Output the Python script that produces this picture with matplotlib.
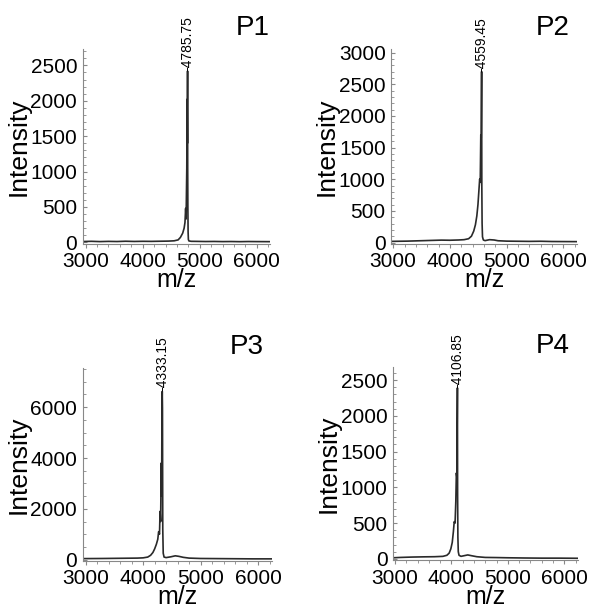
import matplotlib
matplotlib.use("Agg")
from matplotlib import pyplot as plt
from matplotlib.ticker import MultipleLocator
import numpy as np

plt.rcParams['font.family'] = ['Liberation Sans', 'DejaVu Sans']

# spectra: m/z and intensity pairs
p1_mz = [2950, 3100, 3250, 3400, 3550, 3700, 3850, 4000, 4150, 4300, 4450, 4550, 4620,
         4660, 4700, 4725, 4740, 4752, 4760, 4766, 4772, 4778, 4782, 4785.75, 4788, 4791,
         4795, 4800, 4810, 4850, 4950, 5100, 5250, 5400, 5550, 5700, 5850, 6000, 6230]
p1_int = [12, 15, 11, 14, 12, 16, 13, 15, 14, 16, 18, 22, 35,
          70, 130, 200, 280, 480, 330, 700, 1050, 2020, 1400, 2420, 1040, 500,
          150, 40, 20, 15, 14, 12, 13, 11, 12, 10, 12, 11, 10]

p2_mz = [2965, 3100, 3250, 3400, 3550, 3700, 3850, 4000, 4150, 4250, 4330, 4380, 4420,
         4450, 4475, 4495, 4510, 4525, 4535, 4545, 4552, 4559.45, 4563, 4568, 4575,
         4590, 4620, 4700, 4780, 4850, 5000, 5200, 5400, 5600, 5800, 6000, 6245]
p2_int = [18, 20, 22, 26, 30, 34, 38, 36, 40, 45, 60, 100, 180,
          280, 420, 600, 800, 1000, 950, 1700, 1650, 2700, 900, 300, 90,
          40, 30, 45, 40, 28, 22, 20, 18, 20, 16, 15, 14]

p3_mz = [2950, 3100, 3300, 3500, 3700, 3900, 4000, 4080, 4130, 4170, 4200, 4230, 4255,
         4270, 4285, 4295, 4305, 4315, 4322, 4328, 4333.15, 4337, 4342, 4350, 4365,
         4400, 4480, 4560, 4620, 4700, 4800, 5000, 5300, 5600, 5900, 6240]
p3_int = [40, 42, 45, 50, 55, 60, 70, 100, 170, 280, 420, 600, 800,
          1100, 1000, 1900, 1500, 3800, 2500, 6000, 6620, 5950, 1200, 250, 100,
          80, 110, 150, 130, 90, 60, 45, 40, 35, 30, 30]

p4_mz = [2965, 3100, 3300, 3500, 3700, 3850, 3920, 3960, 3990, 4015, 4035, 4050,
         4065, 4078, 4088, 4096, 4102, 4106.85, 4110, 4115, 4122, 4135, 4170, 4230,
         4290, 4350, 4450, 4600, 4800, 5000, 5300, 5600, 5900, 6240]
p4_int = [15, 20, 25, 28, 30, 35, 50, 80, 140, 230, 380, 520,
          500, 800, 1200, 1150, 1850, 2390, 900, 300, 100, 50, 35, 45,
          55, 45, 30, 20, 18, 15, 12, 10, 10, 8]

peak_mz = [4785.75, 4559.45, 4333.15, 4106.85]
peak_int = [2420, 2700, 6620, 2390]
peak_labels = ["-4785.75", "-4559.45", "-4333.15", "-4106.85"]
panel_names = ["P1", "P2", "P3", "P4"]

spectra = [(p1_mz, p1_int), (p2_mz, p2_int), (p3_mz, p3_int), (p4_mz, p4_int)]
xlims = [(2950, 6230), (2965, 6245), (2950, 6240), (2965, 6240)]
ylims = [(-20, 2725), (-20, 3050), (-50, 7550), (-20, 2680)]
y_major = [500, 500, 2000, 500]
y_minor = [100, 100, 500, 100]

# axes boxes in figure fractions [left, bottom, width, height]
boxes = [[0.138, 0.601, 0.312, 0.318],
         [0.652, 0.601, 0.310, 0.318],
         [0.138, 0.082, 0.315, 0.316],
         [0.655, 0.083, 0.308, 0.316]]
label_x = [0.91, 0.87, 0.87, 0.865]

fig = plt.figure(figsize=(6, 6.11), dpi=100)

for i in range(4):
    ax = fig.add_axes(boxes[i])
    mz, inten = spectra[i]
    ax.plot(mz, inten, color="#2a2a2a", lw=1.2)
    ax.set_xlim(*xlims[i])
    ax.set_ylim(*ylims[i])

    ax.xaxis.set_major_locator(MultipleLocator(1000))
    ax.xaxis.set_minor_locator(MultipleLocator(200))
    ax.yaxis.set_major_locator(MultipleLocator(y_major[i]))
    ax.yaxis.set_minor_locator(MultipleLocator(y_minor[i]))

    for side in ["top", "right"]:
        ax.spines[side].set_visible(False)
    for side in ["left", "bottom"]:
        ax.spines[side].set_color("#888888")
        ax.spines[side].set_linewidth(0.8)

    ax.tick_params(axis="y", which="both", direction="in", color="#888888", labelsize=15, pad=4)
    ax.tick_params(axis="y", which="major", length=3)
    ax.tick_params(axis="y", which="minor", length=2)
    ax.tick_params(axis="x", which="both", direction="out", color="#888888", labelsize=15, pad=3)
    ax.tick_params(axis="x", which="major", length=3)
    ax.tick_params(axis="x", which="minor", length=2)

    ax.set_xlabel("m/z", fontsize=18, labelpad=-2)
    ax.set_ylabel("Intensity", fontsize=19, labelpad=0)

    ax.text(peak_mz[i], peak_int[i], peak_labels[i], rotation=90,
            ha="center", va="bottom", fontsize=10)
    ax.text(label_x[i], 1.11, panel_names[i], transform=ax.transAxes,
            ha="center", va="center", fontsize=20)

fig.savefig("out.png", dpi=100)
